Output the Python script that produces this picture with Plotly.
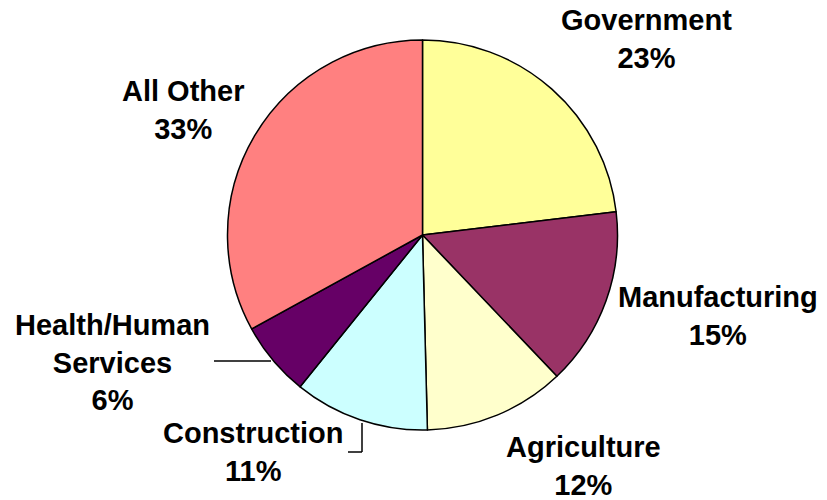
import plotly.graph_objects as go

# ---- data ----
sectors = ["Government", "Manufacturing", "Agriculture", "Construction",
           "Health/Human Services", "All Other"]
shares = [23.1, 14.8, 11.7, 11.2, 6.2, 33.0]
colors = ["#FFFF99", "#993366", "#FFFFCC", "#CCFFFF", "#660066", "#FF8080"]
label_text = ["Government", "Manufacturing", "Agriculture", "Construction",
              "Health/Human<br>Services", "All Other"]

W, H = 827, 500

fig = go.Figure(go.Pie(
    labels=sectors,
    values=shares,
    sort=False,
    direction="clockwise",
    rotation=0,
    marker=dict(colors=colors, line=dict(color="black", width=1.5)),
    textinfo="none",
    hoverinfo="label+percent",
    domain=dict(x=[227 / W, 618 / W], y=[1 - 430 / H, 1 - 40 / H]),
    showlegend=False,
))

# label placement (pixel centres of text blocks)
label_pos = [(646, 39), (718, 316), (583, 466), (253, 452), (112, 362), (183, 110)]
total = sum(shares)
for txt, v, (px, py) in zip(label_text, shares, label_pos):
    pct = round(100 * v / total)
    fig.add_annotation(
        x=px / W, y=1 - py / H, xref="paper", yref="paper",
        text=f"{txt}<br>{pct}%", showarrow=False,
        xanchor="center", yanchor="middle", align="center",
        font=dict(family="Arial, Liberation Sans, sans-serif", size=29,
                  color="black", weight="bold"),
    )

# leader lines
def seg(x0, y0, x1, y1):
    fig.add_shape(type="line", xref="paper", yref="paper",
                  x0=x0 / W, y0=1 - y0 / H, x1=x1 / W, y1=1 - y1 / H,
                  line=dict(color="black", width=1.5))

seg(214, 361, 271, 361)
seg(348, 452, 362, 452)
seg(362, 452, 362, 423)

fig.update_layout(
    width=W, height=H,
    margin=dict(l=0, r=0, t=0, b=0),
    paper_bgcolor="white", plot_bgcolor="white",
)

fig.write_html("out.html",
               config={"displayModeBar": False},
               post_script="document.body.style.margin='0';document.body.style.overflow='hidden';")
